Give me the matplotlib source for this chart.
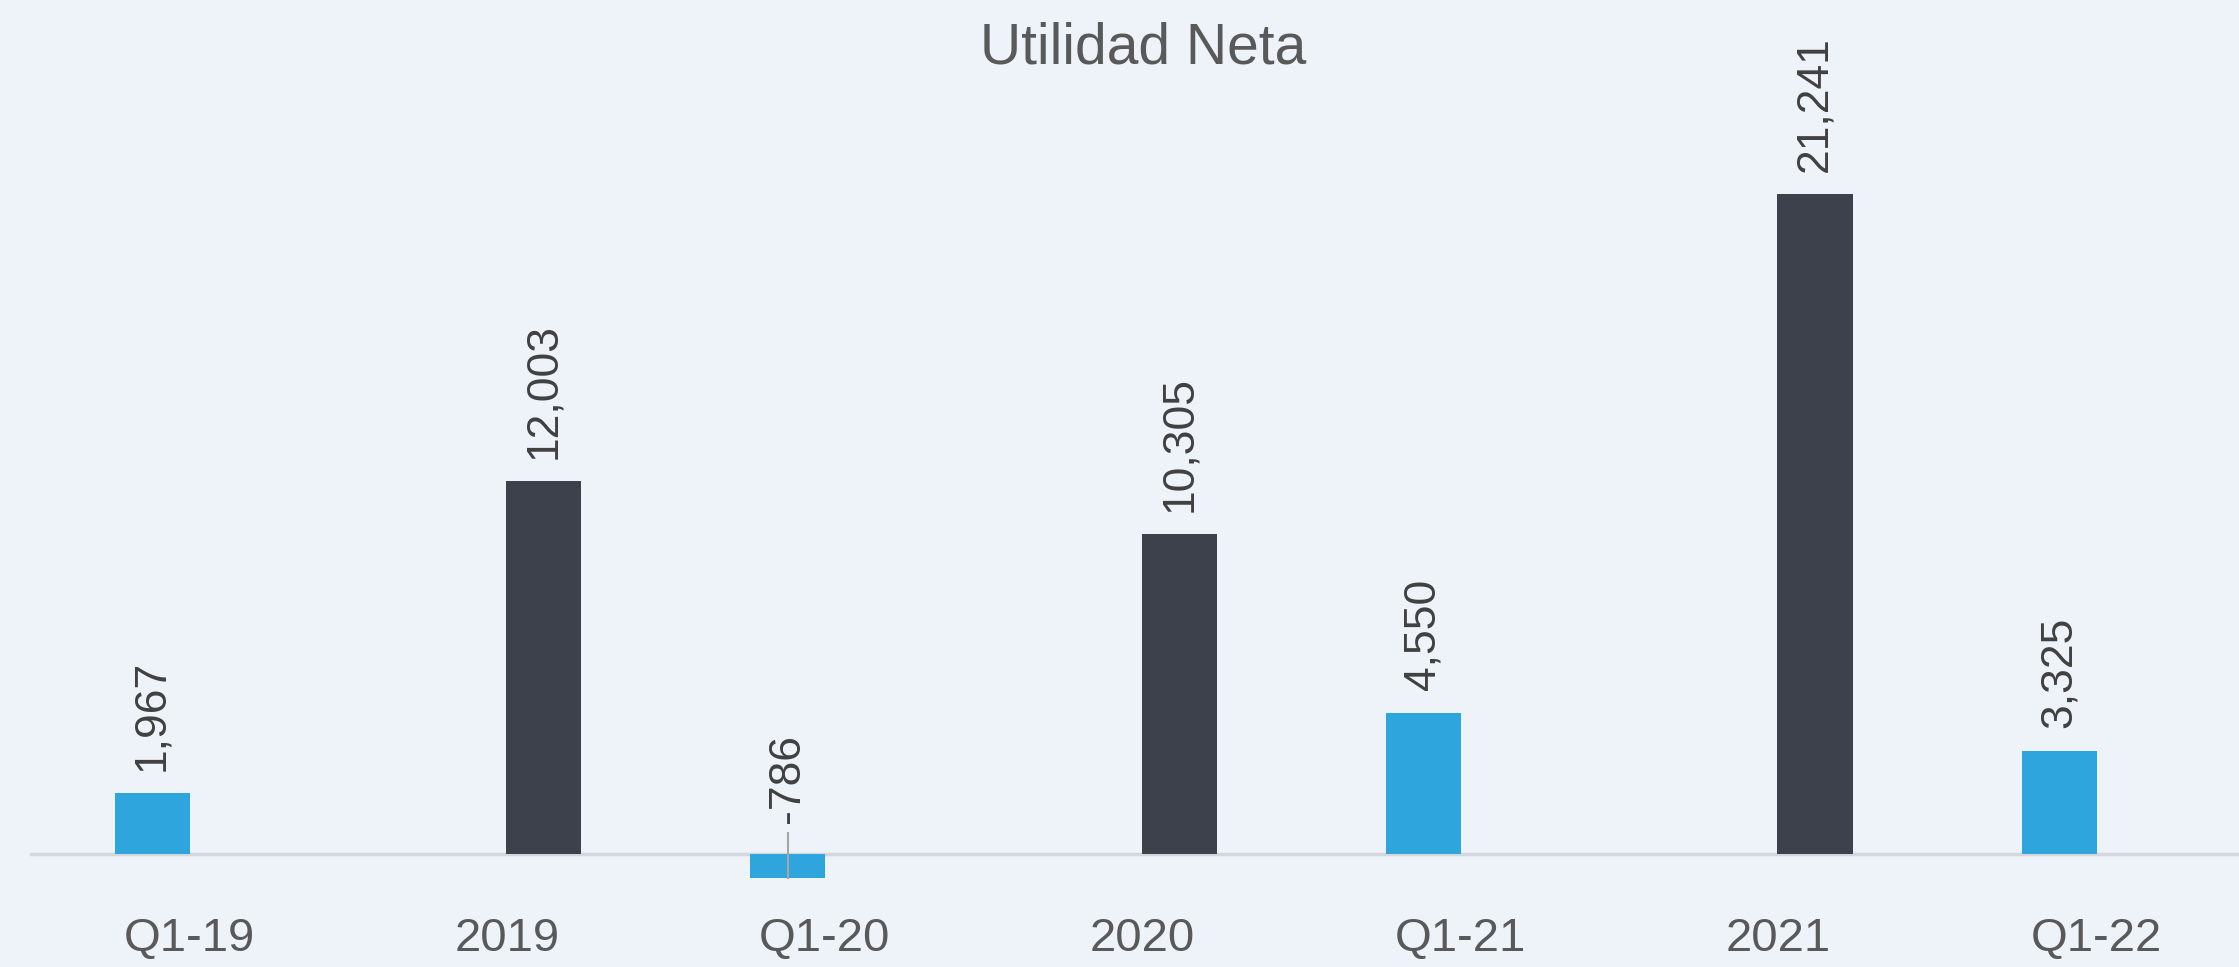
import numpy as np
import matplotlib.pyplot as plt

plt.rcParams['font.family'] = ['Liberation Sans', 'DejaVu Sans']

# categories along the axis
categories = ["Q1-19", "2019", "Q1-20", "2020", "Q1-21", "2021", "Q1-22"]
# quarterly series (light blue) and annual series (dark), NaN where absent
quarterly = [1967, np.nan, -786, np.nan, 4550, np.nan, 3325]
annual = [np.nan, 12003, np.nan, 10305, np.nan, 21241, np.nan]

blue = "#2EA5DC"
dark = "#3D414B"
bg = "#EEF2F9"

fig = plt.figure(figsize=(22.39, 9.67), dpi=100, facecolor=bg)
ax = fig.add_axes([30 / 2239, 1 - 900 / 967, 1 - 30 / 2239, 900 / 967])
ax.set_facecolor(bg)

x = np.arange(len(categories))
off = 0.116
w = 0.236
ax.bar(x - off, quarterly, width=w, color=blue, zorder=2)
ax.bar(x + off, annual, width=w, color=dark, zorder=2)

ax.axhline(0, color="#D6D7DC", lw=2.5, zorder=1)

# data labels
for xi, q, a in zip(x, quarterly, annual):
    for v, xp in ((q, xi - off), (a, xi + off)):
        if np.isnan(v):
            continue
        if v >= 0:
            ax.annotate(f"{v:,.0f}", (xp, v), xytext=(0, 16), textcoords="offset points",
                        rotation=90, ha="center", va="bottom", fontsize=32, color="#404040")
        else:
            ax.annotate(f"{v:,.0f}", (xp, 0), xytext=(0, 22), textcoords="offset points",
                        rotation=90, ha="center", va="bottom", fontsize=32, color="#404040")
            # leader line from the label down through the bar
            ax.plot([xp, xp], [v, 680], color="#A6A6A6", lw=1.5, zorder=3)

ax.set_xticks(x)
ax.set_xticklabels(categories, fontsize=34, color="#595959")
ax.tick_params(axis="x", length=0, pad=12)
ax.set_yticks([])
for s in ax.spines.values():
    s.set_visible(False)

ax.set_xlim(-0.5, 6.45)
ax.set_ylim(-1480, 27482)

fig.text(1143 / 2239, 1 - 48 / 967, "Utilidad Neta", ha="center", va="center",
         fontsize=41, color="#595959")

fig.savefig("out.png", dpi=100, facecolor=bg)
